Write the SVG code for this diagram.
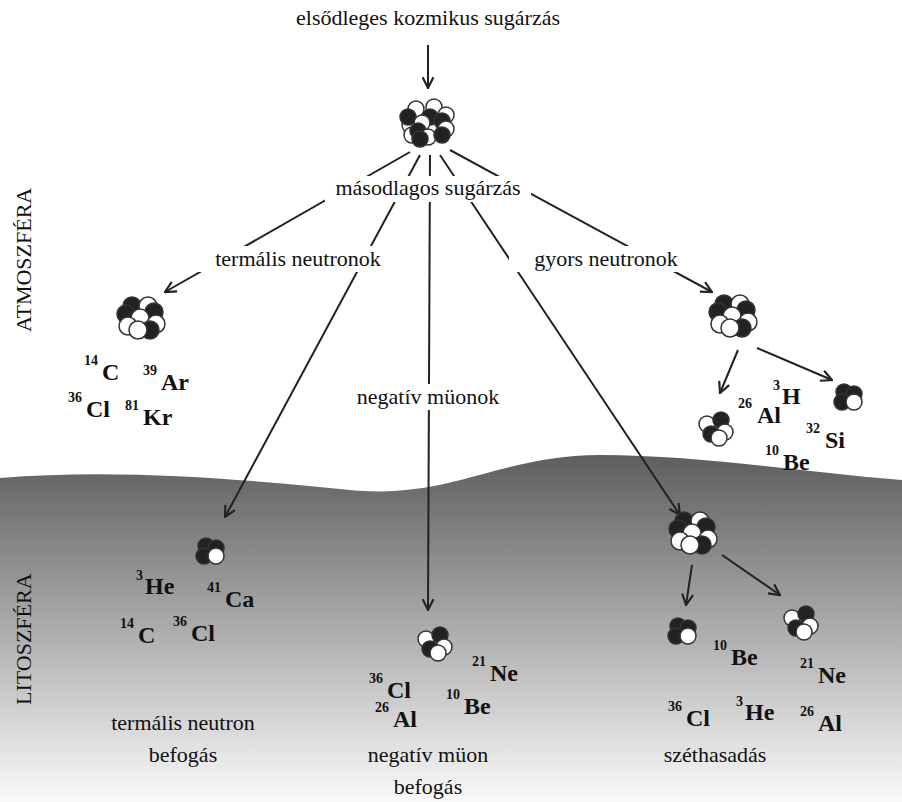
<svg xmlns="http://www.w3.org/2000/svg" width="902" height="802" viewBox="0 0 902 802" font-family="'Liberation Serif', 'DejaVu Serif', serif">
<defs>
<linearGradient id="g" x1="0" y1="0" x2="0" y2="1"><stop offset="0" stop-color="#5e5e5e"/><stop offset="0.45" stop-color="#a4a4a4"/><stop offset="1" stop-color="#fafafa"/></linearGradient>
<marker id="a" viewBox="0 0 12 12" refX="11" refY="6" markerWidth="13" markerHeight="13" markerUnits="userSpaceOnUse" orient="auto"><path d="M1,1 L11,6 L1,11" fill="none" stroke="#222" stroke-width="2"/></marker>
<g id="big"><circle cx="-12" cy="-14" r="8" class="w"/><circle cx="6" cy="-16" r="8" class="w"/><circle cx="18" cy="-8" r="8" class="w"/><circle cx="-18" cy="2" r="8" class="w"/><circle cx="-20" cy="-6" r="8" class="b"/><circle cx="2" cy="-6" r="8" class="b"/><circle cx="14" cy="-2" r="8" class="b"/><circle cx="-6" cy="0" r="8" class="w"/><circle cx="18" cy="6" r="8" class="w"/><circle cx="-16" cy="12" r="8" class="w"/><circle cx="-10" cy="8" r="8" class="b"/><circle cx="0" cy="14" r="8" class="w"/><circle cx="14" cy="12" r="8" class="b"/><circle cx="-8" cy="16" r="8" class="b"/></g>
<g id="mid"><circle cx="-8" cy="-12" r="9" class="b"/><circle cx="8" cy="-12" r="9" class="w"/><circle cx="-14" cy="-4" r="9" class="b"/><circle cx="14" cy="-6" r="9" class="b"/><circle cx="0" cy="0" r="9" class="w"/><circle cx="16" cy="6" r="9" class="w"/><circle cx="-12" cy="8" r="9" class="w"/><circle cx="10" cy="12" r="9" class="b"/><circle cx="-2" cy="12" r="9" class="w"/></g>
<g id="four"><circle cx="-8" cy="-4" r="8" class="w"/><circle cx="6" cy="-8" r="8" class="b"/><circle cx="10" cy="4" r="8" class="w"/><circle cx="-4" cy="6" r="8" class="b"/><circle cx="4" cy="10" r="8" class="w"/></g>
<g id="three"><circle cx="-4" cy="-4" r="8" class="b"/><circle cx="6" cy="-2" r="8" class="b"/><circle cx="-6" cy="6" r="8" class="b"/><circle cx="6" cy="6" r="8" class="w"/></g>
</defs>
<style>
.w{fill:#fff;stroke:#333;stroke-width:1.5}.b{fill:#222;stroke:#333;stroke-width:1.5}
text{fill:#111}
.l{font-size:22px}.i{font-size:24px;font-weight:bold}.s{font-size:14px;font-weight:bold}
.c line{stroke:#222;stroke-width:2;fill:none;marker-end:url(#a)}
.bg{fill:#fff}
</style>
<rect width="902" height="802" fill="#fff"/>
<path id="ground" d="M0,478 C120,468 250,480 350,490 C450,500 500,455 600,455 C700,455 800,472 902,480 L902,802 L0,802 Z" fill="url(#g)"/>
<text class="l" transform="translate(31,332) rotate(-90)">ATMOSZFÉRA</text>
<text class="l" transform="translate(31,705) rotate(-90)">LITOSZFÉRA</text>
<g class="c">
<line x1="428" y1="45" x2="428" y2="88"/>
<line x1="410" y1="152" x2="165" y2="292"/>
<line x1="420" y1="155" x2="225" y2="517"/>
<line x1="430" y1="155" x2="428" y2="610"/>
<line x1="440" y1="155" x2="680" y2="515"/>
<line x1="450" y1="150" x2="712" y2="292"/>
<line x1="738" y1="350" x2="720" y2="393"/>
<line x1="757" y1="348" x2="832" y2="380"/>
<line x1="692" y1="565" x2="686" y2="605"/>
<line x1="722" y1="555" x2="780" y2="595"/>
</g>
<g id="n-primary"><use href="#big" x="428" y="123"/></g>
<g id="labels">
<rect class="bg" x="325" y="176" width="206" height="26"/><text class="l" x="428" y="195" text-anchor="middle">másodlagos sugárzás</text>
<rect class="bg" x="188" y="246" width="220" height="26"/><text class="l" x="298" y="266" text-anchor="middle">termális neutronok</text>
<rect class="bg" x="509" y="246" width="194" height="26"/><text class="l" x="606" y="266" text-anchor="middle">gyors neutronok</text>
<rect class="bg" x="345" y="384" width="168" height="26"/><text class="l" x="428" y="404" text-anchor="middle">negatív müonok</text>
<text class="l" x="428" y="25" text-anchor="middle">elsődleges kozmikus sugárzás</text>
</g>
<g id="n-thermal-atm"><use href="#mid" x="140" y="318"/>
<text class="s" x="84" y="365">14</text><text class="i" x="102" y="380">C</text><text class="s" x="143" y="375">39</text><text class="i" x="161" y="390">Ar</text>
<text class="s" x="68" y="402">36</text><text class="i" x="86" y="417">Cl</text><text class="s" x="125" y="410">81</text><text class="i" x="143" y="425">Kr</text></g>
<g id="n-fast-atm"><use href="#mid" x="732" y="316"/></g>
<g id="n-al"><use href="#four" x="715" y="428"/>
<text class="s" x="738" y="408">26</text><text class="i" x="757" y="423">Al</text><text class="s" x="773" y="390">3</text><text class="i" x="782" y="404">H</text>
<text class="s" x="806" y="433">32</text><text class="i" x="825" y="448">Si</text><text class="s" x="765" y="455">10</text><text class="i" x="783" y="470">Be</text></g>
<g id="n-three-atm"><use href="#three" x="848" y="396"/></g>
<g id="n-thermal-lit"><use href="#three" x="210" y="550"/>
<text class="s" x="136" y="580">3</text><text class="i" x="145" y="594">He</text><text class="s" x="207" y="592">41</text><text class="i" x="225" y="607">Ca</text>
<text class="s" x="120" y="628">14</text><text class="i" x="138" y="643">C</text><text class="s" x="173" y="626">36</text><text class="i" x="191" y="641">Cl</text>
<text class="l" x="183" y="730" text-anchor="middle">termális neutron</text><text class="l" x="183" y="762" text-anchor="middle">befogás</text></g>
<g id="n-muon-lit"><use href="#four" x="434" y="643"/>
<text class="s" x="472" y="666">21</text><text class="i" x="490" y="681">Ne</text>
<text class="s" x="369" y="683">36</text><text class="i" x="387" y="698">Cl</text><text class="s" x="446" y="699">10</text><text class="i" x="464" y="714">Be</text>
<text class="s" x="375" y="712">26</text><text class="i" x="393" y="727">Al</text>
<text class="l" x="428" y="762" text-anchor="middle">negatív müon</text><text class="l" x="428" y="794" text-anchor="middle">befogás</text></g>
<g id="n-spall-lit"><use href="#mid" x="692" y="533"/></g>
<g id="n-spall-three"><use href="#three" x="682" y="630"/></g>
<g id="n-spall-four"><use href="#four" x="800" y="622"/>
<text class="s" x="713" y="650">10</text><text class="i" x="731" y="665">Be</text><text class="s" x="800" y="668">21</text><text class="i" x="818" y="683">Ne</text>
<text class="s" x="668" y="711">36</text><text class="i" x="686" y="726">Cl</text><text class="s" x="736" y="706">3</text><text class="i" x="745" y="720">He</text>
<text class="s" x="800" y="716">26</text><text class="i" x="818" y="731">Al</text>
<text class="l" x="715" y="762" text-anchor="middle">széthasadás</text></g>
</svg>
